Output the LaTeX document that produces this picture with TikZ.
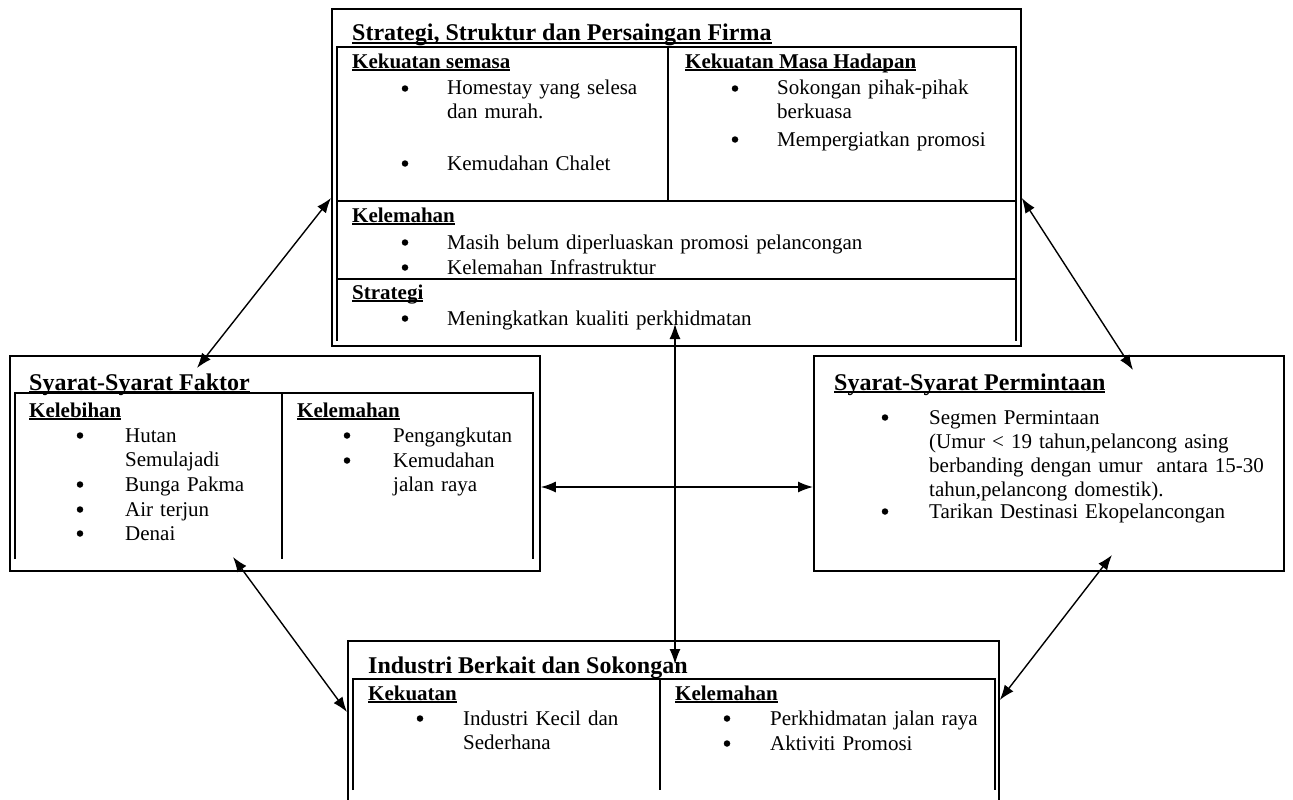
\documentclass[tikz,border=0pt]{standalone}
\usepackage{fontspec}
\setmainfont{Liberation Serif}
\usetikzlibrary{arrows.meta}

\tikzset{
  box/.style={draw, line width=1.8pt, inner sep=0pt, anchor=north west},
  grid/.style={line width=1.8pt},
  judul/.style={anchor=base west, inner sep=0pt, font=\fontsize{24}{26}\selectfont\bfseries},
  kepala/.style={anchor=base west, inner sep=0pt, font=\fontsize{21}{24}\selectfont\bfseries},
  isi/.style={anchor=base west, inner sep=0pt, text width=500pt, align=left, font=\fontsize{21}{24}\selectfont},
  titik/.style={circle, fill, inner sep=0pt, minimum size=6.5pt, yshift=6.5pt},
  hubung/.style={{Latex[length=15pt,width=11pt]}-{Latex[length=15pt,width=11pt]}, line width=1.4pt},
}

% underline that sits close under the baseline
\newcommand{\garis}[1]{\setbox0\hbox{#1}\rlap{\rule[-2.6pt]{\wd0}{1.4pt}}\box0}

% one bullet point: name, bullet x, text x, baseline y, text
\newcommand{\butir}[5]{%
  \node[titik] (#1-b) at (#2,#4) {};
  \node[isi] (#1) at (#3,#4) {#5};}

\begin{document}
\begin{tikzpicture}[x=1pt, y=-1pt]
\useasboundingbox (0,0) rectangle (1293,800);

% Strategi, Struktur dan Persaingan Firma
\node[box, minimum width=689pt, minimum height=337pt] (strat) at (331,8) {};
\draw[grid] (337,341) -- (337,47) -- (1016,47) -- (1016,341);
\draw[grid] (337,201) -- (1016,201) (337,279) -- (1016,279) (668,47) -- (668,201);
\node[judul] (tStrat) at (352,41) {\garis{Strategi, Struktur dan Persaingan Firma}};
\node[kepala] (hSemasa) at (352,68) {\garis{Kekuatan semasa}};
\butir{semasa1}{405}{447}{95}{Homestay yang selesa\\dan murah.}
\butir{semasa2}{405}{447}{170}{Kemudahan Chalet}
\node[kepala] (hHadapan) at (685,68) {\garis{Kekuatan Masa Hadapan}};
\butir{hadapan1}{735}{777}{95}{Sokongan pihak-pihak\\berkuasa}
\butir{hadapan2}{735}{777}{146}{Mempergiatkan promosi}
\node[kepala] (hLemahS) at (352,222) {\garis{Kelemahan}};
\butir{lemahS1}{405}{447}{249}{Masih belum diperluaskan promosi pelancongan}
\butir{lemahS2}{405}{447}{274}{Kelemahan Infrastruktur}
\node[kepala] (hStrategi) at (352,299) {\garis{Strategi}};
\butir{strategi1}{405}{447}{325}{Meningkatkan kualiti perkhidmatan}

% Syarat-Syarat Faktor
\node[box, minimum width=530pt, minimum height=215pt] (faktor) at (9,355) {};
\draw[grid] (15,559) -- (15,393) -- (533,393) -- (533,559);
\draw[grid] (282,393) -- (282,559);
\node[judul] (tFaktor) at (29,390) {\garis{Syarat-Syarat Faktor}};
\node[kepala] (hLebih) at (29,417) {\garis{Kelebihan}};
\butir{lebih1}{80}{125}{442}{Hutan\\Semulajadi}
\butir{lebih2}{80}{125}{491}{Bunga Pakma}
\butir{lebih3}{80}{125}{516}{Air terjun}
\butir{lebih4}{80}{125}{540}{Denai}
\node[kepala] (hLemahF) at (297,417) {\garis{Kelemahan}};
\butir{lemahF1}{347}{393}{442}{Pengangkutan}
\butir{lemahF2}{347}{393}{467}{Kemudahan\\jalan raya}

% Syarat-Syarat Permintaan
\node[box, minimum width=470pt, minimum height=215pt] (minta) at (813,355) {};
\node[judul] (tMinta) at (834,390) {\garis{Syarat-Syarat Permintaan}};
\butir{minta1}{885}{929}{424}{Segmen Permintaan\\(Umur < 19 tahun,pelancong asing\\berbanding dengan umur\ \ antara 15-30\\tahun,pelancong domestik).}
\butir{minta2}{885}{929}{518}{Tarikan Destinasi Ekopelancongan}

% Industri Berkait dan Sokongan
\node[box, minimum width=651pt, minimum height=200pt] (industri) at (347,640) {};
\draw[grid] (353,790) -- (353,679) -- (995,679) -- (995,790);
\draw[grid] (660,679) -- (660,790);
\node[judul] (tIndustri) at (368,673) {Industri Berkait dan Sokongan};
\node[kepala] (hKuat) at (368,700) {\garis{Kekuatan}};
\butir{kuat1}{420}{463}{725}{Industri Kecil dan\\Sederhana}
\node[kepala] (hLemahI) at (675,700) {\garis{Kelemahan}};
\butir{lemahI1}{727}{770}{725}{Perkhidmatan jalan raya}
\butir{lemahI2}{727}{770}{750}{Aktiviti Promosi}

% arrows
\coordinate (pFaktor) at (197,368);
\coordinate (pMinta) at (1133,370);
\coordinate (bFaktor) at (233,557);
\coordinate (bMinta) at (1112,555);
\coordinate (pStrat) at (675,324);
\coordinate (pIndustri) at (675,664);
\draw[hubung] (strat.west |- 0,198) -- (pFaktor);
\draw[hubung] (strat.east |- 0,198) -- (pMinta);
\draw[hubung] (bFaktor) -- (industri.west |- 0,712);
\draw[hubung] (bMinta) -- (industri.east |- 0,700);
\draw[hubung] (faktor.east |- 0,487) -- (minta.west |- 0,487);
\draw[hubung] (pStrat) -- (pIndustri);
\end{tikzpicture}
\end{document}
